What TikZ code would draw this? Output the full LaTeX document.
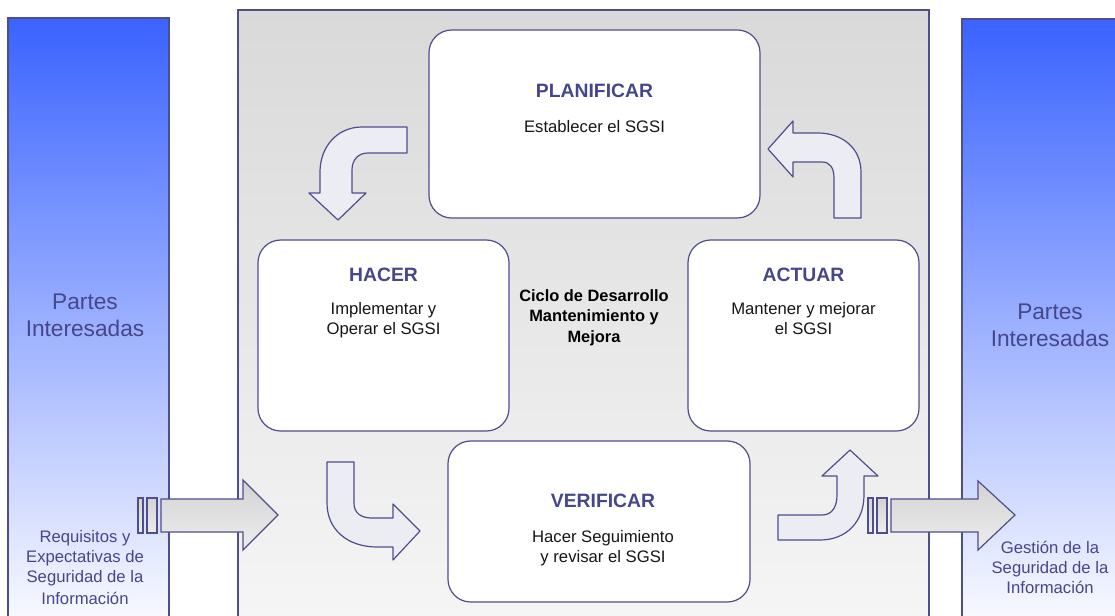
\documentclass[tikz,border=0pt]{standalone}
\usepackage{fontspec}
\setmainfont{Liberation Sans}
\definecolor{navy}{HTML}{46468A}
\definecolor{edgec}{HTML}{4E4E8C}
\definecolor{bodyc}{HTML}{161616}
\definecolor{bluetop}{HTML}{3A63FF}
\definecolor{paneltop}{HTML}{D9D9D9}
\definecolor{panelbot}{HTML}{F6F6F6}
\definecolor{arrfill}{HTML}{ECECF3}
\definecolor{bigtop}{HTML}{D3D3D3}
\definecolor{bigbot}{HTML}{EDEDED}
\tikzset{
  box/.style={draw=edgec, line width=0.9pt, fill=white, rounded corners=17pt, inner sep=0pt},
  ttl/.style={text=navy, font=\fontsize{14.5}{17}\selectfont\bfseries, anchor=base, inner sep=0pt},
  bodytxt/.style={text=bodyc, font=\fontsize{12.5}{15}\selectfont, anchor=base, inner sep=0pt},
  sidetxt/.style={text=navy, font=\fontsize{12.5}{15}\selectfont, anchor=base, inner sep=0pt},
  bigtxt/.style={text=navy, font=\fontsize{17}{20}\selectfont, anchor=base, inner sep=0pt},
  ciclo/.style={text=black, font=\fontsize{12.3}{15}\selectfont\bfseries, anchor=base, inner sep=0pt},
  curvearrow/.style={draw=edgec, line width=0.9pt, fill=arrfill, line join=round},
  bigarrow/.style={draw=edgec, line width=0.9pt, top color=bigtop, bottom color=bigbot},
  column/.style={draw=edgec, line width=0.9pt, top color=bluetop, bottom color=white}
}
\begin{document}
\begin{tikzpicture}[x=0.75pt,y=-0.75pt]
\useasboundingbox (0,0) rectangle (1115,615);
\clip (0,0) rectangle (1115,615);
\fill[white] (0,0) rectangle (1115,615);

% side columns
\path[column] (8,18) rectangle (169,640);
\path[column] (962,19) rectangle (1130,640);
% central panel
\draw[edgec, line width=0.9pt, top color=paneltop, bottom color=panelbot] (238,10) rectangle (929,640);

% boxes
\node[box, minimum width=248.25pt, minimum height=141pt] (plan) at (594.5,124) {};
\node[box, minimum width=188.25pt, minimum height=143.25pt] (hacer) at (383.5,335.5) {};
\node[box, minimum width=173.25pt, minimum height=143.25pt] (actuar) at (803.5,335.5) {};
\node[box, minimum width=226.5pt, minimum height=120.75pt] (verif) at (599,521.5) {};

% box texts
\node[ttl] (tplan) at (594.5,97) {PLANIFICAR};
\node[bodytxt] (bplan) at (594.5,132) {Establecer el SGSI};
\node[ttl] (thacer) at (383.5,281) {HACER};
\node[bodytxt] (bhacer1) at (383.5,314) {Implementar y};
\node[bodytxt] (bhacer2) at (383.5,334) {Operar el SGSI};
\node[ttl] (tactuar) at (803.5,281) {ACTUAR};
\node[bodytxt] (bactuar1) at (803.5,314) {Mantener y mejorar};
\node[bodytxt] (bactuar2) at (803.5,334) {el SGSI};
\node[ttl] (tverif) at (603,507) {VERIFICAR};
\node[bodytxt] (bverif1) at (603,542) {Hacer Seguimiento};
\node[bodytxt] (bverif2) at (603,562) {y revisar el SGSI};

% centre text
\node[ciclo] (c1) at (594,301) {Ciclo de Desarrollo};
\node[ciclo] (c2) at (594,321) {Mantenimiento y};
\node[ciclo] (c3) at (594,342) {Mejora};

% side texts
\node[bigtxt] (pl1) at (85,309) {Partes};
\node[bigtxt] (pl2) at (85,336) {Interesadas};
\node[bigtxt] (pr1) at (1050,319) {Partes};
\node[bigtxt] (pr2) at (1050,346) {Interesadas};
\node[sidetxt] (rl1) at (85,542) {Requisitos y};
\node[sidetxt] (rl2) at (85,562) {Expectativas de};
\node[sidetxt] (rl3) at (85,582) {Seguridad de la};
\node[sidetxt] (rl4) at (85,604) {Información};
\node[sidetxt] (gr1) at (1050,553) {Gestión de la};
\node[sidetxt] (gr2) at (1050,573) {Seguridad de la};
\node[sidetxt] (gr3) at (1050,593) {Información};

% curved arrows
\path[curvearrow] (407,127) -- (362,127) .. controls (337,127) and (320,147) .. (320,172)
  -- (320,193) -- (309,193) -- (338,220) -- (366,193) -- (352,193) -- (352,170)
  .. controls (352,160) and (358,153) .. (368,153) -- (407,153) -- cycle;
\path[curvearrow] (861,218) -- (861,172) .. controls (861,148) and (842,133) .. (818,133)
  -- (793,133) -- (793,121) -- (768,149) -- (793,177) -- (793,162) -- (822,162)
  .. controls (830,162) and (834,168) .. (834,178) -- (834,218) -- cycle;
\path[curvearrow] (327,462) -- (354,462) -- (354,503) .. controls (354,513) and (361,518) .. (372,518)
  -- (393,518) -- (393,504) -- (420,531) -- (393,560) -- (393,547) -- (377,547)
  .. controls (348,547) and (327,530) .. (327,503) -- cycle;
\path[curvearrow] (778,515) -- (822,515) .. controls (832,515) and (837,507) .. (837,495)
  -- (837,476) -- (822,476) -- (850,450) -- (878,476) -- (864,476) -- (864,495)
  .. controls (864,522) and (846,540) .. (820,540) -- (778,540) -- cycle;

% big arrows
\path[bigarrow] (138,498) rectangle (143,533);
\path[bigarrow] (147,498) rectangle (157,533);
\path[bigarrow] (161,499) -- (243,499) -- (243,480) -- (278,515) -- (243,550) -- (243,532) -- (161,532) -- cycle;
\path[bigarrow] (868,498) rectangle (873,533);
\path[bigarrow] (877,498) rectangle (887,533);
\path[bigarrow] (891,499) -- (978,499) -- (978,481) -- (1015,515) -- (978,550) -- (978,532) -- (891,532) -- cycle;
\end{tikzpicture}
\end{document}
